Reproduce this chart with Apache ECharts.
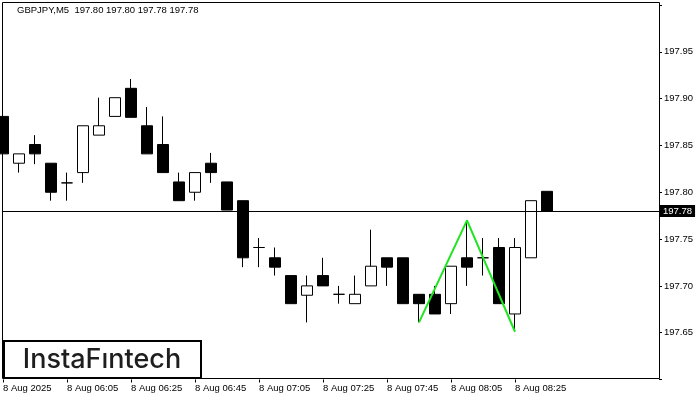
<!DOCTYPE html>
<html>
<head>
<meta charset="utf-8">
<script src="https://cdn.jsdelivr.net/npm/echarts@6/dist/echarts.min.js"></script>
<style>html,body{margin:0;padding:0;background:#fff}#c{width:700px;height:400px}</style>
</head>
<body>
<div id="c"></div>
<script>
// 5-minute bar times (category axis), 8 Aug 2025
const categories = ['05:45','05:50','05:55','06:00','06:05','06:10','06:15','06:20','06:25','06:30','06:35','06:40',
  '06:45','06:50','06:55','07:00','07:05','07:10','07:15','07:20','07:25','07:30','07:35','07:40',
  '07:45','07:50','07:55','08:00','08:05','08:10','08:15','08:20','08:25','08:30','08:35',
  '08:40','08:45','08:50','08:55','09:00','09:05','09:10'];
const xTickLabels = ['8 Aug 2025','8 Aug 06:05','8 Aug 06:25','8 Aug 06:45','8 Aug 07:05','8 Aug 07:25','8 Aug 07:45','8 Aug 08:05','8 Aug 08:25'];
const openV  = [197.881,197.831,197.851,197.831,197.810,197.821,197.861,197.881,197.911,197.871,197.851,197.811,197.800,197.831,197.811,197.791,197.741,197.730,197.711,197.690,197.711,197.691,197.681,197.700,197.730,197.730,197.691,197.691,197.681,197.730,197.730,197.741,197.670,197.730,197.801];
const closeV = [197.841,197.841,197.841,197.800,197.810,197.871,197.871,197.901,197.880,197.841,197.821,197.791,197.821,197.821,197.781,197.730,197.741,197.720,197.681,197.700,197.700,197.691,197.691,197.721,197.720,197.681,197.681,197.670,197.721,197.720,197.730,197.681,197.741,197.791,197.780];
const lowV   = [197.821,197.821,197.830,197.791,197.791,197.810,197.861,197.881,197.880,197.841,197.821,197.791,197.791,197.810,197.781,197.720,197.720,197.711,197.681,197.661,197.700,197.681,197.681,197.700,197.700,197.681,197.661,197.670,197.670,197.700,197.711,197.681,197.651,197.730,197.780];
const highV  = [197.881,197.841,197.861,197.831,197.821,197.871,197.901,197.901,197.921,197.891,197.881,197.821,197.821,197.842,197.811,197.791,197.751,197.741,197.711,197.711,197.730,197.700,197.711,197.760,197.730,197.730,197.691,197.700,197.721,197.770,197.751,197.751,197.751,197.791,197.801];
const yTicks = [197.65,197.70,197.75,197.80,197.85,197.90,197.95];
const currentPrice = 197.78;
const patternIdx = [26,29,32];
const patternVal = [197.661,197.770,197.651];

const kData = openV.map((o,i)=>[o, closeV[i], lowV[i], highV[i]]);
const patternData = patternIdx.map((x,i)=>[x, patternVal[i]]);

const chart = echarts.init(document.getElementById('c'), null, {renderer:'canvas'});
const FONT = 'Liberation Sans';
chart.setOption({
  animation:false,
  backgroundColor:'#fff',
  grid:{left:3, right:41, top:5, bottom:20.5, containLabel:false},
  xAxis:{
    type:'category', data:categories, boundaryGap:false,
    axisLine:{show:false},
    axisTick:{show:true, length:3, lineStyle:{color:'#000'}, interval:(i)=> i%4===0 && i<=32},
    axisLabel:{
      interval:(i)=> i%4===0 && i<=32,
      formatter:(v,i)=> (i%4===0 && xTickLabels[i/4]) ? xTickLabels[i/4] : '',
      align:'left', margin:4, color:'#000', fontFamily:FONT, fontSize:9.5
    },
    splitLine:{show:false}
  },
  yAxis:{
    type:'value', position:'right', min:197.60, max:198.00, interval:0.05, scale:true,
    axisLine:{show:false},
    axisTick:{show:true, length:3, lineStyle:{color:'#000'}},
    axisLabel:{
      margin:5, color:'#000', fontFamily:FONT, fontSize:9.5,
      formatter:(v)=>{ const f = yTicks.find(t=>Math.abs(t-v)<1e-6); return f!==undefined ? f.toFixed(2) : ''; }
    },
    splitLine:{show:false}
  },
  series:[
    {
      type:'candlestick', data:kData, barWidth:11, clip:true,
      itemStyle:{color:'#fff', color0:'#000', borderColor:'#000', borderColor0:'#000', borderWidth:1},
      markLine:{
        silent:true, symbol:['none','none'], animation:false,
        lineStyle:{color:'#000', width:1, type:'solid'},
        label:{show:true, position:'end', formatter:()=>currentPrice.toFixed(2), backgroundColor:'#000', color:'#fff',
               fontFamily:FONT, fontSize:9.5, padding:[1,3,1,3], distance:1},
        data:[{yAxis:currentPrice}]
      }
    },
    {
      type:'line', data:patternData, symbol:'none', clip:true,
      lineStyle:{color:'#1ee61e', width:2}
    }
  ],
  graphic:[
    {type:'rect', shape:{x:2.5, y:2.5, width:657, height:376}, style:{fill:'none', stroke:'#000', lineWidth:1}, silent:true, z:100},
    {type:'text', left:17, top:5, style:{text:'GBPJPY,M5  197.80 197.80 197.78 197.78', fill:'#000', font:'9.5px "Liberation Sans"'}, z:100},
    {type:'rect', shape:{x:4, y:341, width:197, height:37}, style:{fill:'#fff', stroke:'#000', lineWidth:2}, z:101},
    {type:'text', x:102, y:360, style:{text:'InstaFıntech', fill:'#1e1e1e', font:'500 27px Inter', textAlign:'center', textVerticalAlign:'middle'}, z:102}
  ]
});
</script>
</body>
</html>
